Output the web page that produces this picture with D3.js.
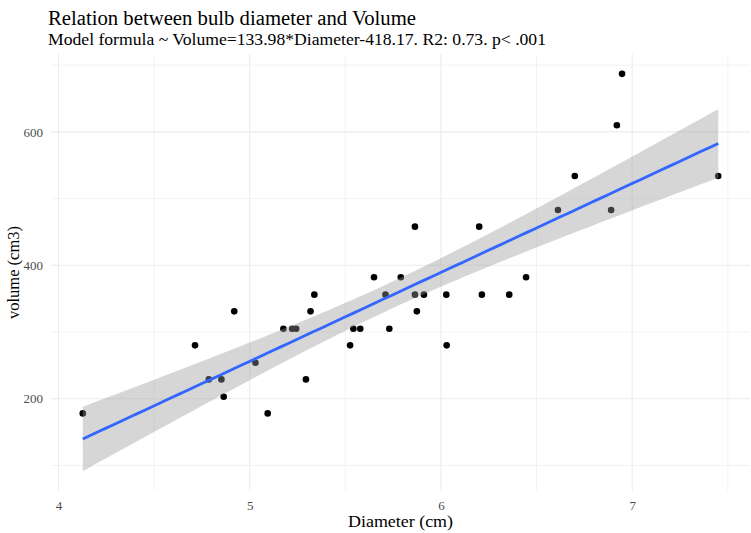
<!DOCTYPE html>
<html><head><meta charset="utf-8">
<script src="https://cdn.jsdelivr.net/npm/d3@7"></script>
<style>body{margin:0;background:#fff}svg{display:block}text{font-family:"Liberation Serif","DejaVu Serif",serif}</style>
</head><body>
<svg id="c" width="751" height="533"></svg>
<script>
const title = "Relation between bulb diameter and Volume";
const subtitle = "Model formula ~ Volume=133.98*Diameter-418.17. R2: 0.73. p< .001";
const xLabel = "Diameter (cm)";
const yLabel = "volume (cm3)";
const xTicks = [4, 5, 6, 7];
const yTicks = [200, 400, 600];
const diameter = [4.127,4.714,4.786,4.852,4.864,4.919,5.03,5.094,5.176,5.222,5.243,5.294,5.318,5.338,5.525,5.542,5.578,5.65,5.71,5.73,5.79,5.864,5.864,5.874,5.911,6.028,6.03,6.200,6.214,6.357,6.445,6.612,6.70,6.89,6.92,6.947,7.45];
const volume   = [178,280,229,229,203,331,254,178,305,305,305,229,331,356,280,305,305,382,356,305,382,458,356,331,356,356,280,458,356,356,382,483,534,483,610,687,534];

const svg = d3.select("#c");
const L = 51, R = 750, T = 54, B = 491;

// linear model with 95% CI (geom_smooth method = "lm")
const n = diameter.length;
const mx = d3.mean(diameter), my = d3.mean(volume);
let sxx = 0, sxy = 0;
for (let i = 0; i < n; i++) { sxx += (diameter[i]-mx)**2; sxy += (diameter[i]-mx)*(volume[i]-my); }
const b1 = sxy / sxx, b0 = my - b1*mx;
let sse = 0;
for (let i = 0; i < n; i++) sse += (volume[i] - b0 - b1*diameter[i])**2;
const s = Math.sqrt(sse/(n-2));
const tcrit = 2.0301;
const [xmin, xmax] = d3.extent(diameter);
const fit = d3.range(0, 81).map(k => {
  const x = xmin + (xmax-xmin)*k/80;
  const yh = b0 + b1*x;
  const se = s*Math.sqrt(1/n + (x-mx)**2/sxx);
  return {x, y: yh, lo: yh - tcrit*se, hi: yh + tcrit*se};
});

const xr = xmax - xmin;
const x = d3.scaleLinear().domain([xmin - 0.05*xr, xmax + 0.05*xr]).range([L, R]);
const ylo = Math.min(d3.min(volume), d3.min(fit, d=>d.lo));
const yhi = Math.max(d3.max(volume), d3.max(fit, d=>d.hi));
const yr = yhi - ylo;
const y = d3.scaleLinear().domain([ylo - 0.05*yr, yhi + 0.05*yr]).range([B, T]);

// grid
const g = svg.append("g");
const xMinor = [3.5,4.5,5.5,6.5,7.5].filter(v => v >= x.domain()[0] && v <= x.domain()[1]);
const yMinor = [100,300,500,700].filter(v => v >= y.domain()[0] && v <= y.domain()[1]);
g.selectAll(".xm").data(xMinor).join("line").attr("x1",d=>x(d)).attr("x2",d=>x(d)).attr("y1",T).attr("y2",B).attr("stroke","#ebebeb").attr("stroke-width",0.6);
g.selectAll(".ym").data(yMinor).join("line").attr("y1",d=>y(d)).attr("y2",d=>y(d)).attr("x1",L).attr("x2",R).attr("stroke","#ebebeb").attr("stroke-width",0.6);
g.selectAll(".xM").data(xTicks).join("line").attr("x1",d=>x(d)).attr("x2",d=>x(d)).attr("y1",T).attr("y2",B).attr("stroke","#ebebeb").attr("stroke-width",1.1);
g.selectAll(".yM").data(yTicks).join("line").attr("y1",d=>y(d)).attr("y2",d=>y(d)).attr("x1",L).attr("x2",R).attr("stroke","#ebebeb").attr("stroke-width",1.1);

// points
svg.append("g").selectAll("circle").data(diameter).join("circle")
  .attr("cx", d => x(d)).attr("cy", (d,i) => y(volume[i])).attr("r", 3.3).attr("fill", "#000");

// ribbon + line
svg.append("path").datum(fit)
  .attr("d", d3.area().x(d=>x(d.x)).y0(d=>y(d.lo)).y1(d=>y(d.hi)))
  .attr("fill", "#999999").attr("fill-opacity", 0.4);
svg.append("path").datum(fit)
  .attr("d", d3.line().x(d=>x(d.x)).y(d=>y(d.y)))
  .attr("fill","none").attr("stroke","#3366FF").attr("stroke-width",2.8);

// axes
const xa = svg.append("g").attr("transform",`translate(0,${B})`)
  .call(d3.axisBottom(x).tickValues(xTicks).tickSize(0).tickPadding(10).tickFormat(d3.format("d")));
const ya = svg.append("g").attr("transform",`translate(${L},0)`)
  .call(d3.axisLeft(y).tickValues(yTicks).tickSize(0).tickPadding(8).tickFormat(d3.format("d")));
[xa, ya].forEach(a => {
  a.select(".domain").remove();
  a.selectAll("text").attr("fill","#4d4d4d").style("font-size","13px").style("font-family","'Liberation Serif',serif");
});

svg.append("text").attr("x", (L+R)/2).attr("y", 527).attr("text-anchor","middle")
  .style("font-size","17px").attr("fill","#000")
  .attr("textLength",105).attr("lengthAdjust","spacingAndGlyphs").text(xLabel);
svg.append("text").attr("transform",`translate(19,${(T+B)/2}) rotate(-90)`).attr("text-anchor","middle")
  .style("font-size","17px").attr("fill","#000")
  .attr("textLength",93).attr("lengthAdjust","spacingAndGlyphs").text(yLabel);
svg.append("text").attr("x", 48).attr("y", 25).style("font-size","20.5px").attr("fill","#000")
  .attr("textLength",368).attr("lengthAdjust","spacingAndGlyphs").text(title);
svg.append("text").attr("x", 48).attr("y", 45).style("font-size","16px").attr("fill","#000")
  .attr("textLength",498).attr("lengthAdjust","spacingAndGlyphs").text(subtitle);
</script>
</body></html>
